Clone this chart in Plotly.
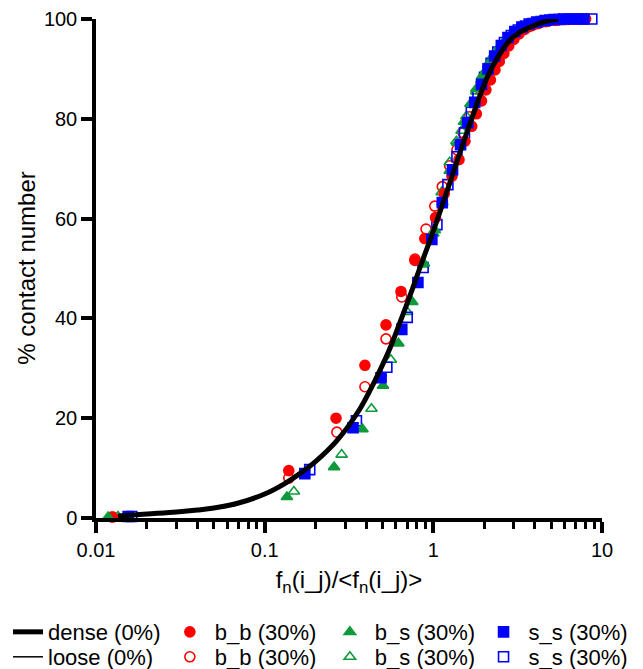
import plotly.graph_objects as go

# ---------------- data ----------------
dense_x = [0.0135, 0.02, 0.03, 0.04, 0.05, 0.07, 0.1, 0.13, 0.16, 0.2, 0.268, 0.366, 0.45, 0.55,
           0.634, 0.75, 0.85, 1.0, 1.2, 1.44, 1.7, 1.97, 2.2, 2.48, 2.8, 3.2, 3.89, 4.6, 5.5]
dense_y = [0.4, 0.8, 1.2, 1.6, 2.0, 3.0, 4.8, 6.8, 8.8, 11.3, 15.5, 21.8, 27.5, 33.8, 39.2, 45.8,
           51.0, 57.5, 65.3, 73.3, 80.3, 86.3, 89.9, 93.0, 95.5, 97.2, 98.6, 99.5, 100.0]

loose_x = [0.0135, 0.02, 0.03, 0.04, 0.05, 0.07, 0.1, 0.13, 0.16, 0.2, 0.268, 0.366, 0.45, 0.55,
           0.634, 0.75, 0.85, 1.0, 1.2, 1.44, 1.7, 1.97, 2.2, 2.48, 2.8, 3.2, 3.89, 4.6, 5.5]
loose_y = [0.4, 0.8, 1.2, 1.6, 2.0, 3.0, 4.8, 6.8, 8.8, 11.3, 15.5, 21.8, 27.5, 33.8, 39.2, 45.8,
           51.0, 57.5, 65.3, 73.3, 80.3, 86.3, 89.9, 93.0, 95.5, 97.2, 98.6, 99.5, 100.0]

bb_dense_x = [0.0124, 0.139, 0.265, 0.393, 0.524, 0.643, 0.778, 0.89, 1.03, 1.16, 1.29, 1.42, 1.54,
              1.69, 1.80, 1.93, 2.05, 2.18, 2.32, 2.46, 2.62, 2.80, 3.00, 3.22, 3.48, 3.80, 4.2,
              4.7, 5.3, 6.1, 7.0, 8.0]
bb_dense_y = [0.2, 9.5, 20.0, 30.6, 38.7, 45.4, 51.6, 56.0, 60.2, 65.0, 68.5, 71.8, 75.5, 78.5,
              81.0, 83.6, 85.8, 87.8, 89.8, 91.5, 93.1, 94.6, 95.9, 97.0, 97.9, 98.6, 99.1, 99.5,
              99.7, 99.9, 100.0, 100.0]

bb_loose_x = [0.0126, 0.139, 0.268, 0.393, 0.524, 0.65, 0.778, 0.905, 1.02, 1.13, 1.25, 1.38, 1.50,
              1.63, 1.77, 1.91, 2.06, 2.22, 2.40, 2.58, 2.78, 3.00, 3.25, 3.55, 3.9, 4.3, 4.8, 5.5,
              6.3, 7.2]
bb_loose_y = [0.2, 8.0, 17.2, 26.3, 35.9, 44.3, 51.9, 57.9, 62.5, 66.4, 70.6, 73.8, 77.2, 80.4,
              83.2, 85.8, 88.2, 90.3, 92.2, 93.8, 95.2, 96.4, 97.4, 98.2, 98.8, 99.3, 99.6, 99.8,
              99.9, 100.0]

bs_dense_x = [0.0118, 0.1355, 0.258, 0.38, 0.503, 0.62, 0.75, 0.88, 1.02, 1.13, 1.25, 1.39, 1.52,
              1.66, 1.80, 1.95, 2.11, 2.28, 2.46, 2.66, 2.88, 3.12, 3.40, 3.72, 4.1, 4.6, 5.2, 6.0]
bs_dense_y = [0.2, 4.2, 10.2, 17.8, 26.5, 35.0, 43.3, 51.0, 57.7, 63.3, 69.6, 75.2, 79.4, 83.0,
              86.0, 88.6, 90.9, 92.8, 94.4, 95.8, 96.9, 97.8, 98.5, 99.0, 99.4, 99.7, 99.9, 100.0]

bs_loose_x = [0.0135, 0.149, 0.286, 0.43, 0.56, 0.70, 0.87, 1.0, 1.12, 1.25, 1.37, 1.47, 1.57, 1.72,
              1.80, 1.93, 2.07, 2.16, 2.32, 2.50, 2.70, 2.92, 3.18, 3.48, 3.85, 4.3, 4.9, 5.6]
bs_loose_y = [0.3, 5.3, 12.7, 21.9, 31.7, 41.3, 50.8, 57.0, 65.3, 71.3, 75.5, 77.6, 80.5, 83.0,
              85.5, 87.8, 89.9, 91.4, 93.1, 94.6, 95.9, 97.0, 97.9, 98.6, 99.1, 99.5, 99.8, 100.0]

ss_dense_x = [0.0155, 0.173, 0.334, 0.49, 0.65, 0.81, 0.98, 1.13, 1.30, 1.45, 1.60, 1.76, 1.93,
              2.11, 2.31, 2.53, 2.77, 3.04, 3.35, 3.70, 4.1, 4.6, 5.2, 5.9, 6.8, 7.8]
ss_dense_y = [0.3, 8.9, 18.1, 28.1, 37.8, 47.2, 55.8, 63.2, 69.8, 74.8, 79.2, 83.3, 86.9, 90.0,
              92.6, 94.7, 96.3, 97.5, 98.4, 99.0, 99.4, 99.7, 99.9, 100.0, 100.0, 100.0]

ss_loose_x = [0.0163, 0.185, 0.35, 0.53, 0.70, 0.87, 1.05, 1.22, 1.38, 1.53, 1.68, 1.84, 2.01,
              2.20, 2.41, 2.64, 2.90, 3.19, 3.52, 3.90, 4.35, 4.9, 5.6, 6.4, 7.5, 8.7]
ss_loose_y = [0.3, 9.7, 19.5, 30.2, 40.2, 50.2, 58.8, 66.8, 72.4, 77.2, 81.3, 85.0, 88.3, 91.1,
              93.4, 95.3, 96.7, 97.8, 98.6, 99.1, 99.5, 99.8, 99.9, 100.0, 100.0, 100.0]

x_tickvals = [0.01, 0.1, 1, 10]
x_ticktext = ["0.01", "0.1", "1", "10"]
y_tickvals = [0, 20, 40, 60, 80, 100]

RED = "#FF0000"
GREEN = "#0E9A3A"
BLUE = "#0000FF"
FONT = "Liberation Sans, Arial, sans-serif"

fig = go.Figure()

def add_markers(x, y, name, symbol, color, legend):
    fig.add_trace(go.Scatter(
        x=x, y=y, mode="markers", name=name, legend=legend, cliponaxis=False,
        marker=dict(symbol=symbol, size=10, color=color, line=dict(color=color, width=1.6)),
    ))

# one legend box per legend entry, laid out as 4 columns x 2 rows
add_markers(bb_loose_x, bb_loose_y, "b_b (30%)", "circle-open", RED, "legend6")
add_markers(bs_loose_x, bs_loose_y, "b_s (30%)", "triangle-up-open", GREEN, "legend7")
add_markers(ss_loose_x, ss_loose_y, "s_s (30%)", "square-open", BLUE, "legend8")
add_markers(bb_dense_x, bb_dense_y, "b_b (30%)", "circle", RED, "legend2")
add_markers(bs_dense_x, bs_dense_y, "b_s (30%)", "triangle-up", GREEN, "legend3")
add_markers(ss_dense_x, ss_dense_y, "s_s (30%)", "square", BLUE, "legend4")

fig.add_trace(go.Scatter(x=loose_x, y=loose_y, mode="lines", name="loose (0%)",
                         legend="legend5", line=dict(color="black", width=1.5, shape="spline")))
fig.add_trace(go.Scatter(x=dense_x, y=dense_y, mode="lines", name="dense (0%)",
                         legend="legend", line=dict(color="black", width=5, shape="spline")))

def leg(x, y, iw):
    return dict(
        orientation="v", xref="container", yref="container",
        x=x, y=y, xanchor="left", yanchor="top",
        font=dict(size=22, family=FONT), itemwidth=iw,
        bgcolor="rgba(0,0,0,0)",
    )

col_x = [0.0, 0.247, 0.499, 0.741]
row_y = [0.0877, 0.0499]

fig.update_layout(
    width=635, height=661,
    margin=dict(l=88, r=41, t=11, b=151, autoexpand=False),
    paper_bgcolor="white", plot_bgcolor="white",
    font=dict(family=FONT, size=20, color="black"),
    showlegend=True,
    legend=leg(col_x[0], row_y[0], 30),
    legend2=leg(col_x[1], row_y[0], 40),
    legend3=leg(col_x[2], row_y[0], 40),
    legend4=leg(col_x[3], row_y[0], 40),
    legend5=leg(col_x[0], row_y[1], 30),
    legend6=leg(col_x[1], row_y[1], 40),
    legend7=leg(col_x[2], row_y[1], 40),
    legend8=leg(col_x[3], row_y[1], 40),
    annotations=[dict(
        text="% contact number", xref="paper", yref="paper", x=-0.138, y=0.5,
        xanchor="center", yanchor="middle", textangle=-90, showarrow=False,
        font=dict(size=24, family=FONT, color="black"),
    )],
)

fig.update_xaxes(
    type="log", range=[-2, 1],
    tickvals=x_tickvals, ticktext=x_ticktext,
    showline=True, linecolor="black", linewidth=3.5,
    ticks="outside", ticklen=11, tickwidth=3.5, tickcolor="black",
    minor=dict(ticks="outside", ticklen=7, tickwidth=3, tickcolor="black", dtick="D1", showgrid=False),
    showgrid=False, zeroline=False,
    tickfont=dict(size=20),
    title=dict(text="f<sub>n</sub>(i_j)/&lt;f<sub>n</sub>(i_j)&gt;", font=dict(size=24), standoff=12),
)
fig.update_yaxes(
    range=[0, 100],
    tickvals=y_tickvals,
    showline=True, linecolor="black", linewidth=3.5,
    ticks="outside", ticklen=11, tickwidth=3.5, tickcolor="black",
    showgrid=False, zeroline=False,
    tickfont=dict(size=20),
)

fig.write_html("out.html")
